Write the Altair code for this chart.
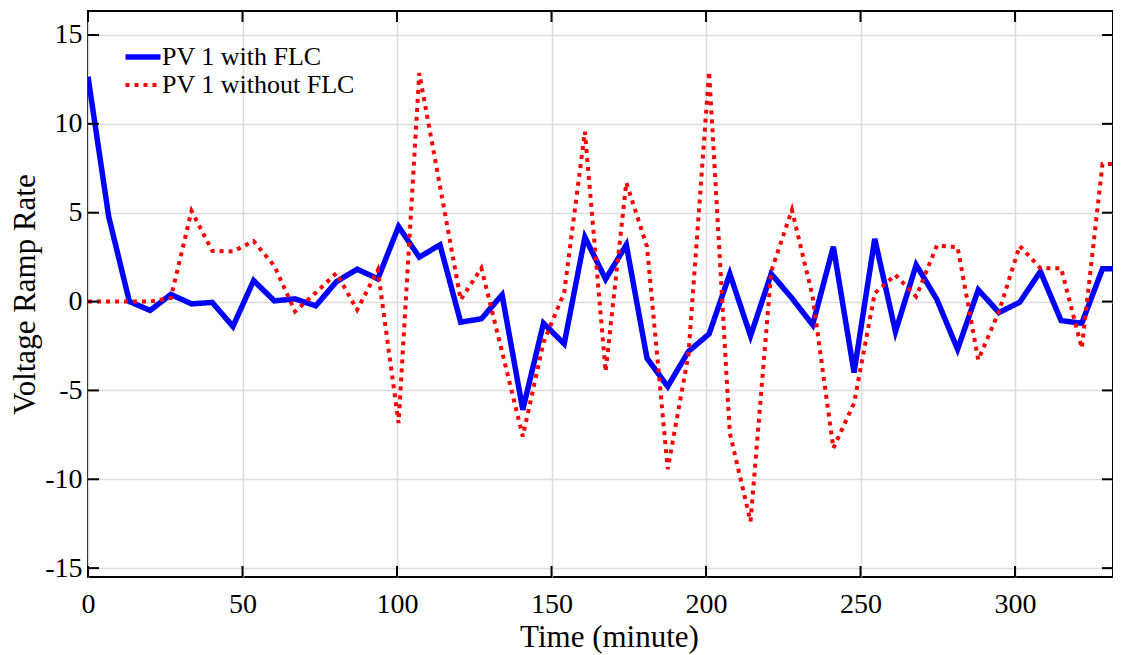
import altair as alt
import pandas as pd

# ---- data ----
time_min = [0, 6.7, 13.4, 20.1, 26.8, 33.5, 40.2, 46.9, 53.6, 60.3,
            67.0, 73.7, 80.4, 87.1, 93.8, 100.5, 107.2, 113.9, 120.6, 127.3,
            134.0, 140.7, 147.4, 154.1, 160.8, 167.5, 174.2, 180.9, 187.6, 194.3,
            201.0, 207.7, 214.4, 221.1, 227.8, 234.5, 241.2, 247.9, 254.6, 261.3,
            268.0, 274.7, 281.4, 288.1, 294.8, 301.5, 308.2, 314.9, 321.6, 328.3,
            335.0]
with_flc = [12.65, 4.78, 0.0, -0.5, 0.4, -0.13, -0.05, -1.4, 1.18, 0.04,
            0.15, -0.24, 1.12, 1.82, 1.28, 4.22, 2.5, 3.19, -1.16, -0.97,
            0.38, -6.09, -1.22, -2.38, 3.62, 1.26, 3.19, -3.19, -4.78, -2.81,
            -1.82, 1.56, -1.93, 1.56, 0.19, -1.31, 3.09, -3.99, 3.53, -1.69,
            2.06, 0.12, -2.68, 0.66, -0.62, -0.04, 1.69, -1.07, -1.22, 1.84,
            1.84]
without_flc = [0, 0, 0, 0, 0.2, 5.1, 2.85, 2.82, 3.4, 2.0,
               -0.56, 0.5, 1.6, -0.47, 1.78, -6.84, 12.85, 6.5, 0.1, 1.88,
               -2.83, -7.59, -2.3, 0.5, 9.56, -3.94, 6.69, 3.09, -9.43, -3.0,
               12.94, -7.4, -12.37, 1.7, 5.16, 0.28, -8.25, -5.72, 0.47, 1.5,
               0.28, 3.15, 3.06, -3.28, -0.56, 3.13, 1.88, 1.88, -2.62, 7.74,
               7.74]
series_names = ["PV 1 with FLC", "PV 1 without FLC"]
series_colors = ["#0000ff", "#ff0000"]
x_ticks = [0, 50, 100, 150, 200, 250, 300]
y_ticks = [-15, -10, -5, 0, 5, 10, 15]

W, H = 1025, 566
FONT = "Liberation Serif"
TICK = 11

rows = []
for t, v in zip(time_min, with_flc):
    rows.append({"t": t, "v": v, "s": series_names[0]})
for t, v in zip(time_min, without_flc):
    rows.append({"t": t, "v": v, "s": series_names[1]})
df = pd.DataFrame(rows)
xt = pd.DataFrame({"xv": x_ticks})
yt = pd.DataFrame({"yv": y_ticks})

x_scale = alt.Scale(domain=[0, 331.7], nice=False, zero=False)
y_scale = alt.Scale(domain=[-15.5, 16.35], nice=False, zero=False)
x_axis = alt.Axis(title="Time (minute)", values=x_ticks, labelPadding=13, labelFlush=False,
                  labelExpr="'' + datum.value",
                  titleX=521, titleY=69, titleAlign="center", titleBaseline="alphabetic")
y_axis = alt.Axis(title="Voltage Ramp Rate", values=y_ticks, labelPadding=6, labelFlush=False,
                  labelExpr="'' + datum.value",
                  titleX=-54, titleY=H / 2, titleAlign="center", titleBaseline="alphabetic",
                  titleAngle=270)

# wide custom stroke symbol: drawn twice as long as its layout box
legend = alt.Legend(title=None, orient="none", legendX=42, legendY=33,
                    symbolType="M-2,0H2", symbolSize=306, symbolStrokeWidth=5.5,
                    labelFont=FONT, labelFontSize=26, labelColor="black", labelLimit=0,
                    rowPadding=2, labelOffset=6, padding=0)

lines = alt.Chart(df).mark_line(clip=True, strokeCap="butt").encode(
    x=alt.X("t:Q", scale=x_scale, axis=x_axis),
    y=alt.Y("v:Q", scale=y_scale, axis=y_axis),
    color=alt.Color("s:N", scale=alt.Scale(domain=series_names, range=series_colors), legend=legend),
    strokeDash=alt.StrokeDash("s:N", scale=alt.Scale(domain=series_names, range=[[1, 0], [4, 5]]), legend=legend),
    strokeWidth=alt.StrokeWidth("s:N", scale=alt.Scale(domain=series_names, range=[5.5, 4]), legend=None),
)

tick_style = dict(color="black", strokeWidth=2)
bottom_ticks = alt.Chart(xt).mark_rule(**tick_style).encode(
    x=alt.X("xv:Q", scale=x_scale, axis=x_axis), y=alt.value(H), y2=alt.value(H - TICK))
top_ticks = alt.Chart(xt).mark_rule(**tick_style).encode(
    x=alt.X("xv:Q", scale=x_scale, axis=x_axis), y=alt.value(0), y2=alt.value(TICK))
left_ticks = alt.Chart(yt).mark_rule(**tick_style).encode(
    y=alt.Y("yv:Q", scale=y_scale, axis=y_axis), x=alt.value(0), x2=alt.value(TICK))
right_ticks = alt.Chart(yt).mark_rule(**tick_style).encode(
    y=alt.Y("yv:Q", scale=y_scale, axis=y_axis), x=alt.value(W), x2=alt.value(W - TICK))

chart = alt.layer(lines, bottom_ticks, top_ticks, left_ticks, right_ticks).properties(
    width=W, height=H,
    autosize=alt.AutoSizeParams(type="none"),
    padding={"left": 80, "top": 3, "right": 0, "bottom": 78},
    background="white",
).configure_view(
    stroke="black", strokeWidth=2
).configure_axis(
    labelFont=FONT, titleFont=FONT, labelFontSize=28, titleFontSize=31,
    labelColor="black", titleColor="black", titleFontWeight="normal",
    gridColor="#dcdcdc", gridWidth=1.5, ticks=False, domain=False, grid=True,
)

chart.save("out.html", embed_options={"renderer": "svg", "actions": False})
